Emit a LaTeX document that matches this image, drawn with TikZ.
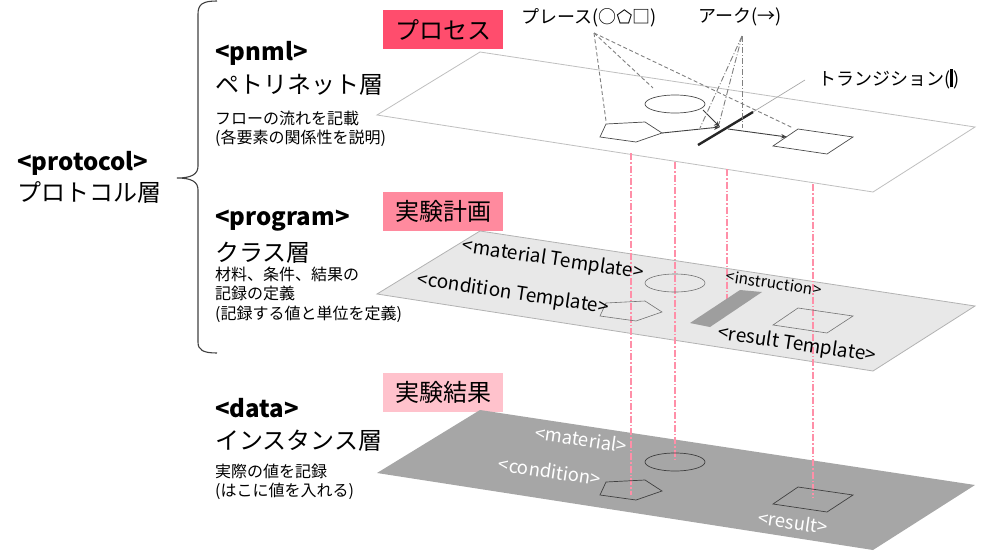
\documentclass[tikz,border=0pt]{standalone}
\usepackage{fontspec}
\setmainfont{Noto Sans CJK JP}
\newfontfamily\dejavu{DejaVu Sans}
\usetikzlibrary{arrows.meta}
\definecolor{procc}{HTML}{FF4D6D}
\definecolor{progc}{HTML}{FF8A9E}
\definecolor{datac}{HTML}{FFC2CC}
\definecolor{pinkl}{HTML}{FF8FA8}
\definecolor{planeM}{HTML}{E8E8E8}
\definecolor{planeD}{HTML}{A6A6A6}
\begin{document}
\begin{tikzpicture}[x=1pt,y=-1pt,
  big/.style={font=\fontsize{24}{28}\selectfont, anchor=base west, inner sep=0pt},
  bigb/.style={font=\fontsize{24}{28}\selectfont\bfseries, anchor=base west, inner sep=0pt},
  small/.style={font=\fontsize{16}{19}\selectfont, anchor=base west, inner sep=0pt},
  tag/.style={minimum width=120pt, minimum height=39pt, inner sep=0pt, font=\fontsize{24}{28}\selectfont, anchor=north west},
  callout/.style={font=\fontsize{18}{22}\selectfont, inner sep=0pt},
  tmpl/.style={font=\fontsize{19}{23}\selectfont, rotate=-8.5, inner sep=0pt},
  datal/.style={font=\fontsize{18.5}{22}\selectfont, rotate=-8.5, inner sep=0pt, text=white},
  shapeT/.style={draw=black!70, line width=0.7pt},
  shapeM/.style={draw=black!55, line width=0.6pt},
  shapeD/.style={draw=black!75, line width=0.7pt},
  arc/.style={draw=black!75, line width=0.9pt, -{Stealth[length=6pt,width=4.5pt]}},
  placeline/.style={draw=black!50, line width=0.9pt, dash pattern=on 4pt off 2.5pt},
  arcline/.style={draw=black!50, line width=0.9pt, dash pattern=on 6pt off 2pt on 1pt off 2pt},
  pinkline/.style={draw=pinkl, line width=1.1pt, dash pattern=on 7pt off 2pt on 1.5pt off 2pt},
]
\useasboundingbox (0,0) rectangle (1004,552);

% ---------- brace ----------
\draw[black!75, line width=1.1pt] (217,1) .. controls (203,1) and (198,4) .. (198,14)
  -- (198,166) .. controls (198,174) and (192,178) .. (177,178)
  .. controls (192,178) and (198,182) .. (198,190)
  -- (198,342) .. controls (198,350) and (203,353) .. (217,353);

% ---------- left texts ----------
\node[bigb] (protocol) at (17,170) {<protocol>};
\node[big]  (protocolj) at (17,201) {プロトコル層};

\node[bigb] (pnml) at (215,60) {<pnml>};
\node[big]  (pnmlj) at (215,93) {ペトリネット層};
\node[small] (pnml1) at (215,124) {フローの流れを記載};
\node[small] (pnml2) at (215,143) {(各要素の関係性を説明)};

\node[bigb] (program) at (215,225) {<program>};
\node[big]  (programj) at (215,261) {クラス層};
\node[small] (prog1) at (215,280) {材料、条件、結果の};
\node[small] (prog2) at (215,299) {記録の定義};
\node[small] (prog3) at (215,319) {(記録する値と単位を定義)};

\node[bigb] (data) at (215,417) {<data>};
\node[big]  (dataj) at (215,449) {インスタンス層};
\node[small] (data1) at (215,477) {実際の値を記録};
\node[small] (data2) at (215,496) {(はこに値を入れる)};

% ---------- tags ----------
\node[tag, fill=procc] (tagproc) at (383,10) {プロセス};
\node[tag, fill=progc] (tagprog) at (383,192) {実験計画};
\node[tag, fill=datac] (tagdata) at (383,373) {実験結果};

% ---------- planes ----------
\fill[white, draw=black!25, line width=0.8pt] (377,115) -- (480,52) -- (975,127) -- (873,192) -- cycle;
\fill[planeM, draw=black!30, line width=0.8pt] (377,294) -- (480,231) -- (975,306) -- (873,371) -- cycle;
\fill[planeD] (377,473) -- (480,410) -- (975,485) -- (873,550) -- cycle;

% ---------- pink projection lines ----------
\coordinate (v1t) at (631,153); \coordinate (v1b) at (631,495);
\coordinate (v2t) at (675,162); \coordinate (v2b) at (675,461);
\coordinate (v3t) at (727,169); \coordinate (v3b) at (727,307);
\coordinate (v4t) at (813,184); \coordinate (v4b) at (813,497);
\draw[pinkline] (v1t) -- (v1b);
\draw[pinkline] (v2t) -- (v2b);
\draw[pinkline] (v3t) -- (v3b);
\draw[pinkline] (v4t) -- (v4b);

% ---------- top plane (petri net) ----------
\draw[shapeT] (600,137) -- (606,124) -- (645,122) -- (662,133) -- (636,142) -- cycle;
\draw[shapeT] (675,104) ellipse [x radius=30, y radius=9];
\draw[shapeT] (773,146) -- (798,129) -- (853,137) -- (827,154) -- cycle;
\coordinate (pentR) at (662,133);
\coordinate (ellR) at (703,110);
\coordinate (tIn) at (720,127);
\coordinate (tOut) at (728,129);
\coordinate (sqIn) at (787,137);
\coordinate (trA) at (698,145);
\coordinate (trB) at (753,112);
\draw[arc] (pentR) -- (tIn);
\draw[arc] (ellR) -- (tIn);
\draw[arc] (tOut) -- (sqIn);
\draw[black!85, line width=2.4pt] (trA) -- (trB);

% ---------- callouts ----------
\node[callout] (place) at (589,18) {プレース(○{\dejavu ⬠}□)};
\node[callout] (arclab) at (740,17) {アーク(→)};
\node[callout, anchor=west] (translab) at (818,79) {トランジション(\rule[-0.12em]{3pt}{1.0em})};
\coordinate (plS) at (594,33);
\coordinate (plP) at (606,121);
\coordinate (plE) at (653,88);
\coordinate (plQ) at (793,128);
\draw[placeline] (plS) -- (plP);
\draw[placeline] (plS) -- (plE);
\draw[placeline] (plS) -- (plQ);
\coordinate (acS) at (742,36);
\coordinate (acA) at (700,128);
\coordinate (acB) at (719,124);
\coordinate (acC) at (742,128);
\draw[arcline] (acS) -- (acA);
\draw[arcline] (acS) -- (acB);
\draw[arcline] (acS) -- (acC);
\coordinate (trS) at (805,80);
\draw[black!35, line width=0.7pt] (trS) -- (trB);

% ---------- middle plane (templates) ----------
\draw[shapeM] (600,316) -- (606,303) -- (645,301) -- (662,312) -- (636,321) -- cycle;
\draw[shapeM] (675,283) ellipse [x radius=30, y radius=9];
\draw[shapeM] (773,325) -- (798,308) -- (853,316) -- (827,333) -- cycle;
\fill[black!38] (690,323) -- (740,290) -- (762,292) -- (710,327) -- cycle;
\node[tmpl] (matT) at (553,260) {<material Template>};
\node[tmpl] (condT) at (513,294) {<condition Template>};
\node[tmpl, font=\fontsize{15.5}{18}\selectfont] (instT) at (774,283) {<instruction>};
\node[tmpl] (resT) at (797,345) {<result Template>};

% ---------- bottom plane (data) ----------
\draw[shapeD] (600,495) -- (606,482) -- (645,480) -- (662,491) -- (636,500) -- cycle;
\draw[shapeD] (675,462) ellipse [x radius=30, y radius=9];
\draw[shapeD] (773,504) -- (798,487) -- (853,495) -- (827,512) -- cycle;
\node[datal] (matD) at (581,439) {<material>};
\node[datal] (condD) at (550,471) {<condition>};
\node[datal] (resD) at (793,522) {<result>};
\end{tikzpicture}
\end{document}
